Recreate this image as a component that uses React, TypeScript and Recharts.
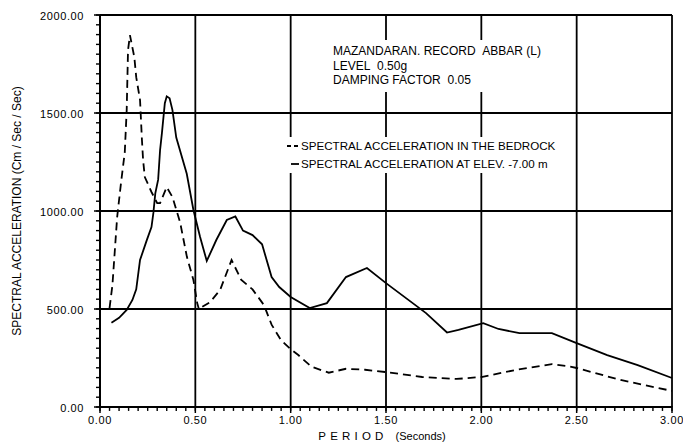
import React from 'react';
import { LineChart, Line, XAxis, YAxis, ReferenceLine, Legend } from 'recharts';

// Bedrock (dashed) spectrum
const bedrockPeriod = [0.05, 0.065, 0.09, 0.11, 0.13, 0.14, 0.147, 0.157, 0.18, 0.19, 0.21, 0.22, 0.226, 0.235, 0.27, 0.3, 0.315, 0.35, 0.38, 0.42, 0.456, 0.49, 0.51, 0.52, 0.535, 0.577, 0.63, 0.69, 0.74, 0.8, 0.86, 0.9, 0.95, 1.0, 1.04, 1.11, 1.2, 1.29, 1.39, 1.5, 1.69, 1.87, 2.0, 2.18, 2.37, 2.45, 2.5, 2.73, 3.0];
const bedrockAccel = [505, 620, 969, 1142, 1300, 1515, 1821, 1897, 1785, 1683, 1566, 1362, 1260, 1173, 1097, 1040, 1040, 1122, 1071, 943, 765, 648, 530, 495, 510, 535, 597, 750, 650, 600, 520, 420, 340, 295, 265, 205, 175, 195, 190, 178, 153, 143, 153, 189, 219, 209, 199, 138, 82];

// Elevation -7.00 m (solid) spectrum
const elevPeriod = [0.06, 0.1, 0.14, 0.17, 0.19, 0.21, 0.245, 0.27, 0.28, 0.29, 0.305, 0.315, 0.325, 0.34, 0.35, 0.365, 0.38, 0.4, 0.455, 0.49, 0.525, 0.56, 0.61, 0.665, 0.71, 0.75, 0.8, 0.85, 0.9, 0.94, 1.0, 1.1, 1.19, 1.29, 1.4, 1.5, 1.71, 1.82, 1.88, 2.01, 2.09, 2.2, 2.37, 2.5, 2.66, 2.82, 3.0];
const elevAccel = [430, 455, 495, 546, 600, 750, 850, 918, 990, 1090, 1160, 1310, 1400, 1550, 1585, 1575, 1515, 1375, 1190, 1005, 867, 745, 852, 954, 972, 900, 877, 830, 663, 612, 561, 505, 530, 663, 709, 632, 479, 380, 393, 428, 398, 377, 377, 326, 265, 214, 148];

const xMajorTicks = [0, 0.5, 1.0, 1.5, 2.0, 2.5, 3.0];
const yMajorTicks = [0, 500, 1000, 1500, 2000];
const xMinorTicks = Array.from({ length: 61 }, (_, i) => Number((i * 0.05).toFixed(2)));
const yMinorTicks = Array.from({ length: 41 }, (_, i) => i * 50);
const gridX = [0.5, 1.0, 1.5, 2.0, 2.5, 3.0];
const gridY = [500, 1000, 1500, 2000];

const seriesNames = ['SPECTRAL ACCELERATION IN THE BEDROCK', 'SPECTRAL ACCELERATION AT ELEV. -7.00 m'];
const annotationLines = ['MAZANDARAN. RECORD\u00a0\u00a0ABBAR (L)', 'LEVEL\u00a0\u00a00.50g', 'DAMPING FACTOR\u00a0\u00a00.05'];

const bedrockData = bedrockPeriod.map((p, i) => ({ period: p, accel: bedrockAccel[i] }));
const elevData = elevPeriod.map((p, i) => ({ period: p, accel: elevAccel[i] }));

const FONT = '"Liberation Sans", Arial, Helvetica, sans-serif';

// tick mark lengths expressed in axis units (~4px)
const X_TICK_LEN = 20; // accel units below the x axis
const Y_TICK_LEN = 0.021; // period units left of the y axis

const XTick = (props: any) => {
  const { x, y, payload } = props;
  const v = payload.value as number;
  return (
    <g>
      <line x1={x} x2={x} y1={y - 1} y2={y + 6} stroke="#000" strokeWidth={1.5} />
      <text x={x} y={y + 13} textAnchor="middle" dominantBaseline="central" fontFamily={FONT} fontSize={11} letterSpacing={0.6} fill="#000">
        {v.toFixed(2)}
      </text>
    </g>
  );
};

const YTick = (props: any) => {
  const { x, y, payload } = props;
  const v = payload.value as number;
  return (
    <g>
      <line x1={x - 6} x2={x + 1} y1={y} y2={y} stroke="#000" strokeWidth={1.5} />
      <text x={x - 16} y={y + 1} textAnchor="end" dominantBaseline="central" fontFamily={FONT} fontSize={11} letterSpacing={0.6} fill="#000">
        {v.toFixed(2)}
      </text>
    </g>
  );
};

const YLabel = (props: any) => {
  const vb = props.viewBox || { x: 0, y: 15, width: 100, height: 392 };
  const cx = vb.x + 17;
  const cy = vb.y + vb.height / 2;
  return (
    <text x={cx} y={cy} transform={`rotate(-90, ${cx}, ${cy})`} textAnchor="middle" dominantBaseline="central" fontFamily={FONT} fontSize={12} fill="#000">
      SPECTRAL ACCELERATION (Cm / Sec / Sec)
    </text>
  );
};

const XLabel = (props: any) => {
  const vb = props.viewBox || { x: 100, y: 407, width: 572, height: 38 };
  const cx = vb.x + vb.width / 2 - 4;
  const cy = vb.y + 29;
  return (
    <text x={cx} y={cy} textAnchor="middle" dominantBaseline="central" fontFamily={FONT} fontSize={11.5} fill="#000">
      <tspan letterSpacing={4.2}>PERIOD</tspan>
      <tspan dx={8} fontSize={11}>(Seconds)</tspan>
    </text>
  );
};

const LegendContent = () => (
  <div style={{ background: '#fff', fontFamily: FONT, fontSize: 11.6, lineHeight: '18px', color: '#000', padding: '0 2px', whiteSpace: 'nowrap' }}>
    <div style={{ display: 'flex', alignItems: 'center' }}>
      <svg width={14} height={10} style={{ marginRight: 1 }}>
        <line x1={1} x2={13} y1={5} y2={5} stroke="#000" strokeWidth={1.8} strokeDasharray="4 3" />
      </svg>
      <span>{seriesNames[0]}</span>
    </div>
    <div style={{ display: 'flex', alignItems: 'center' }}>
      <svg width={14} height={10} style={{ marginRight: 1 }}>
        <line x1={5} x2={13} y1={5} y2={5} stroke="#000" strokeWidth={1.8} />
      </svg>
      <span>{seriesNames[1]}</span>
    </div>
  </div>
);

export default function App() {
  return (
    <div style={{ position: 'absolute', left: 0, top: 0, width: 683, height: 445, background: '#fff' }}>
      <LineChart width={683} height={445} margin={{ top: 15, right: 11, bottom: 0, left: 0 }}>
        <XAxis
          dataKey="period"
          type="number"
          domain={[0, 3]}
          ticks={xMajorTicks}
          interval={0}
          tickSize={0}
          tickMargin={0}
          tick={<XTick />}
          height={38}
          axisLine={{ stroke: '#000', strokeWidth: 2 }}
          allowDuplicatedCategory={false}
          label={<XLabel />}
        />
        <YAxis
          type="number"
          domain={[0, 2000]}
          ticks={yMajorTicks}
          interval={0}
          tickSize={0}
          tickMargin={0}
          tick={<YTick />}
          width={100}
          axisLine={{ stroke: '#000', strokeWidth: 2 }}
          label={<YLabel />}
        />
        {xMinorTicks.map((v) => (
          <ReferenceLine
            key={`mx${v}`}
            segment={[{ x: v, y: 0 }, { x: v, y: -X_TICK_LEN }]}
            ifOverflow="visible"
            stroke="#000"
            strokeWidth={1.4}
          />
        ))}
        {yMinorTicks.map((v) => (
          <ReferenceLine
            key={`my${v}`}
            segment={[{ x: 0, y: v }, { x: -Y_TICK_LEN, y: v }]}
            ifOverflow="visible"
            stroke="#000"
            strokeWidth={1.4}
          />
        ))}
        {gridY.map((v) => (
          <ReferenceLine key={`gy${v}`} y={v} stroke="#000" strokeWidth={1.8} />
        ))}
        {gridX.map((v) => (
          <ReferenceLine key={`gx${v}`} x={v} stroke="#000" strokeWidth={1.8} />
        ))}
        <Line
          data={bedrockData}
          dataKey="accel"
          name={seriesNames[0]}
          type="linear"
          stroke="#000"
          strokeWidth={1.8}
          strokeDasharray="8 5"
          dot={false}
          isAnimationActive={false}
        />
        <Line
          data={elevData}
          dataKey="accel"
          name={seriesNames[1]}
          type="linear"
          stroke="#000"
          strokeWidth={1.8}
          dot={false}
          isAnimationActive={false}
        />
        <Legend
          layout="vertical"
          verticalAlign="middle"
          align="center"
          content={<LegendContent />}
          wrapperStyle={{ top: 137, left: 284, width: 'auto', height: 'auto' }}
        />
      </LineChart>
      <div
        style={{
          position: 'absolute',
          left: 330,
          top: 40,
          padding: '4px 3px',
          background: '#fff',
          fontFamily: FONT,
          fontSize: 12,
          lineHeight: '14.5px',
          color: '#000',
          whiteSpace: 'nowrap',
        }}
      >
        {annotationLines.map((t) => (
          <div key={t}>{t}</div>
        ))}
      </div>
    </div>
  );
}
